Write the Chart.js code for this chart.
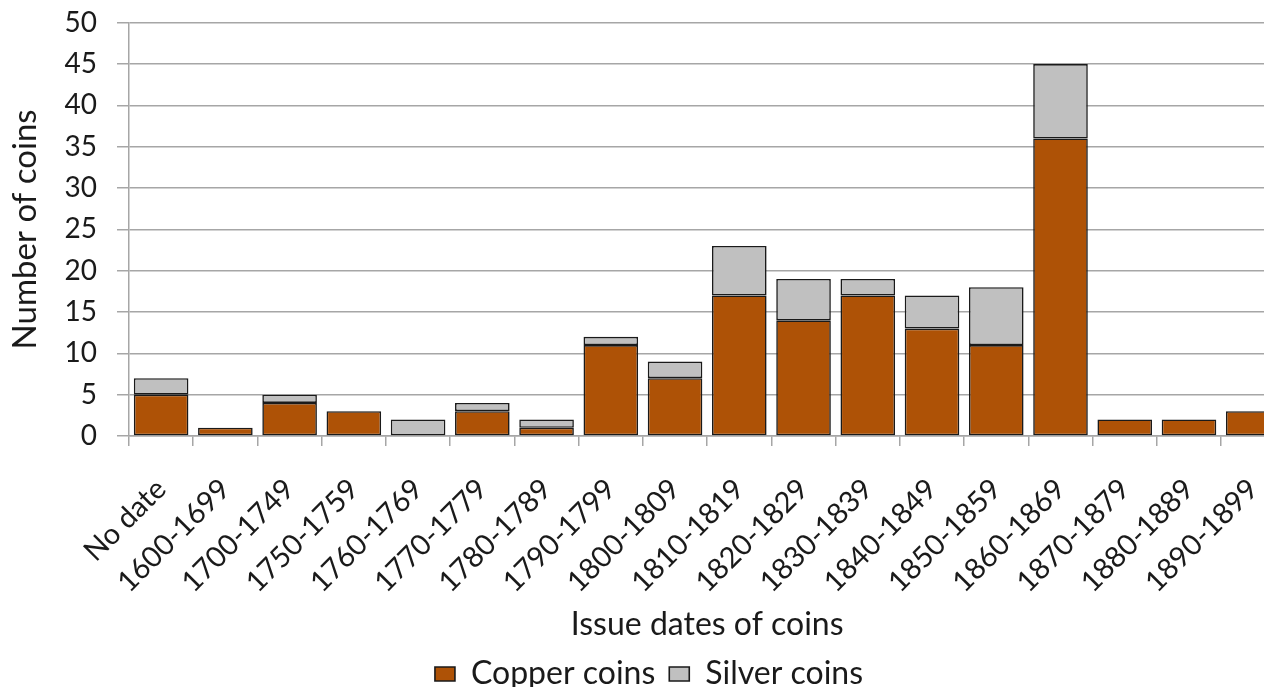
<!DOCTYPE html>
<html>
<head>
<meta charset="utf-8">
<script src="https://cdn.jsdelivr.net/npm/chart.js@4.4.1/dist/chart.umd.min.js"></script>
<style>
body { margin: 0; overflow: hidden; background: #fff; }
#wrap { position: absolute; left: 0; top: -14px; width: 1304px; height: 728px; }
</style>
</head>
<body>
<div id="wrap"><canvas id="chart"></canvas></div>
<script>
const periods = ['No date', '1600-1699', '1700-1749', '1750-1759', '1760-1769', '1770-1779',
	'1780-1789', '1790-1799', '1800-1809', '1810-1819', '1820-1829', '1830-1839',
	'1840-1849', '1850-1859', '1860-1869', '1870-1879', '1880-1889', '1890-1899'];
const copperCoins = [5, 1, 4, 3, 0, 3, 1, 11, 7, 17, 14, 17, 13, 11, 36, 2, 2, 3];
const silverCoins = [2, 0, 1, 0, 2, 1, 1, 1, 2, 6, 5, 2, 4, 7, 9, 0, 0, 0];

const fontFamily = 'Lato, sans-serif';
const textColor = '#1a1a1a';
const gridColor = '#a6a6a6';

const data = {
	labels: periods,
	datasets: [{
		label: 'Copper coins',
		data: copperCoins,
		backgroundColor: '#ae5206',
	}, {
		label: 'Silver coins',
		data: silverCoins,
		backgroundColor: '#c0c0c0',
	}]
};
for (const ds of data.datasets) {
	ds.borderColor = '#1a1a1a';
	ds.borderWidth = 1.6;
	ds.borderSkipped = false;
	ds.barPercentage = 0.85;
	ds.categoryPercentage = 1;
}

const config = {
	type: 'bar',
	data,
	options: {
		responsive: true,
		maintainAspectRatio: false,
		animation: false,
		layout: { padding: { top: 0, right: 6, left: 0, bottom: 14 } },
		plugins: {
			legend: {
				position: 'bottom',
				labels: { font: { family: fontFamily, size: 32 }, color: textColor, boxWidth: 20, boxHeight: 14, padding: 14 }
			},
			tooltip: { enabled: false }
		},
		scales: {
			x: {
				stacked: true,
				offset: true,
				grid: { display: true, drawOnChartArea: false, offset: true, tickLength: 10, color: gridColor, lineWidth: 1.5 },
				border: { color: gridColor, width: 1.5 },
				ticks: { minRotation: 45, maxRotation: 45, font: { family: fontFamily, size: 29 }, color: textColor, padding: 26 },
				title: { display: true, text: 'Issue dates of coins', font: { family: fontFamily, size: 32 }, color: textColor, padding: { top: 0, bottom: 0 } },
				afterFit: scale => { scale.height = 208 }
			},
			y: {
				stacked: true,
				min: 0,
				max: 50,
				grid: { color: gridColor, lineWidth: 1.5, tickLength: 12 },
				border: { color: gridColor, width: 1.5 },
				ticks: { stepSize: 5, font: { family: fontFamily, size: 28 }, color: textColor, padding: 20 },
				title: { display: true, text: 'Number of coins', font: { family: fontFamily, size: 33 }, color: textColor, padding: { top: 6, bottom: 0 } },
				afterFit: scale => { scale.width = 129 }
			}
		}
	}
};

new Chart(document.getElementById('chart'), config);
</script>
</body>
</html>
